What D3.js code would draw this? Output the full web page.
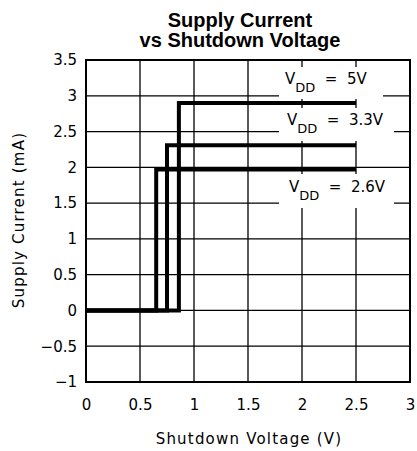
<!DOCTYPE html>
<html>
<head>
<meta charset="utf-8">
<script src="https://cdn.jsdelivr.net/npm/d3@7"></script>
<style>
  html, body { margin: 0; padding: 0; background: #fff; }
  svg { display: block; }
  .tick text { font-family: "DejaVu Sans", sans-serif; }
</style>
</head>
<body>
<svg id="chart" width="417" height="451"></svg>
<script>
// Supply current step for each supply voltage
const supplyLabels = ["5V", "3.3V", "2.6V"];
const thresholdVolts = [0.86, 0.75, 0.65];     // shutdown voltage where the part turns on (V)
const onCurrents = [2.9, 2.31, 1.97];          // supply current once on (mA)
const offCurrent = 0;                          // supply current in shutdown (mA)
const sweepStart = 0;
const sweepEnd = 2.5;

const xTicks = [0, 0.5, 1, 1.5, 2, 2.5, 3];
const yTicks = [-1, -0.5, 0, 0.5, 1, 1.5, 2, 2.5, 3, 3.5];

const margin = { top: 60, right: 7, bottom: 69, left: 86 };
const width = 417, height = 451;
const innerW = width - margin.left - margin.right;
const innerH = height - margin.top - margin.bottom;

const svg = d3.select("#chart");

const x = d3.scaleLinear().domain([0, 3]).range([margin.left, margin.left + innerW]);
const y = d3.scaleLinear().domain([-1, 3.5]).range([margin.top + innerH, margin.top]);

const fmt = v => (v < 0 ? "\u2212" + Math.abs(v) : String(v));

// Title
const titleStyle = sel => sel
  .attr("x", 240).attr("text-anchor", "middle")
  .attr("font-family", "Liberation Sans, Arial, sans-serif")
  .attr("font-weight", "bold").attr("font-size", 20);
svg.append("text").call(titleStyle).attr("y", 26.5).text("Supply Current");
svg.append("text").call(titleStyle).attr("y", 46.5).text("vs Shutdown Voltage");

// Grid
const grid = svg.append("g").attr("stroke", "#000").attr("stroke-width", 1.3);
grid.selectAll("line.v").data(xTicks.slice(1, -1)).join("line")
  .attr("x1", d => x(d)).attr("x2", d => x(d))
  .attr("y1", y(3.5)).attr("y2", y(-1));
grid.selectAll("line.h").data(yTicks.slice(1, -1)).join("line")
  .attr("x1", x(0)).attr("x2", x(3))
  .attr("y1", d => y(d)).attr("y2", d => y(d));

// Axes (labels only, frame drawn separately)
const xAxis = svg.append("g")
  .attr("transform", `translate(0,${y(-1)})`)
  .call(d3.axisBottom(x).tickValues(xTicks).tickSize(0).tickPadding(17).tickFormat(fmt));
xAxis.select(".domain").remove();
xAxis.selectAll("text").attr("font-size", 15).attr("fill", "#000");

const yAxis = svg.append("g")
  .attr("transform", `translate(${x(0)},0)`)
  .call(d3.axisLeft(y).tickValues(yTicks).tickSize(0).tickPadding(9).tickFormat(fmt));
yAxis.select(".domain").remove();
yAxis.selectAll("text").attr("font-size", 15).attr("fill", "#000");

// Plot frame
svg.append("rect")
  .attr("x", x(0)).attr("y", y(3.5))
  .attr("width", x(3) - x(0)).attr("height", y(-1) - y(3.5))
  .attr("fill", "none").attr("stroke", "#000").attr("stroke-width", 2);

// Axis titles
svg.append("text")
  .attr("x", 249).attr("y", 444).attr("text-anchor", "middle")
  .attr("font-family", "DejaVu Sans, sans-serif").attr("font-size", 15)
  .attr("letter-spacing", 1.2)
  .text("Shutdown Voltage (V)");

svg.append("text")
  .attr("transform", "translate(24,220) rotate(-90)")
  .attr("text-anchor", "middle")
  .attr("font-family", "DejaVu Sans, sans-serif").attr("font-size", 15)
  .attr("letter-spacing", 1.2)
  .text("Supply Current (mA)");

// Curve labels with white boxes behind them
const labelBoxes = [
  { x0: 279, x1: 383, y0: 67, y1: 99, tx: 285, ty: 84 },
  { x0: 279, x1: 394, y0: 108, y1: 141, tx: 287, ty: 125 },
  { x0: 279, x1: 394, y0: 174, y1: 208, tx: 289, ty: 192 }
];
const labels = svg.append("g");
supplyLabels.forEach((s, i) => {
  const b = labelBoxes[i];
  labels.append("rect")
    .attr("x", b.x0).attr("y", b.y0)
    .attr("width", b.x1 - b.x0).attr("height", b.y1 - b.y0)
    .attr("fill", "#fff");
  const t = labels.append("text")
    .attr("x", b.tx).attr("y", b.ty)
    .attr("font-family", "DejaVu Sans, sans-serif").attr("font-size", 15);
  t.append("tspan").text("V");
  t.append("tspan").attr("dy", 8).attr("font-size", 13).text("DD");
  t.append("tspan").attr("dy", -8).attr("xml:space", "preserve").text("  =  " + s);
});

// Step curves
const line = d3.line().x(d => x(d[0])).y(d => y(d[1])).curve(d3.curveStepAfter);
const curves = thresholdVolts.map((t, i) => [
  [sweepStart, offCurrent],
  [t, onCurrents[i]],
  [sweepEnd, onCurrents[i]]
]);
svg.append("g").selectAll("path").data(curves).join("path")
  .attr("d", line)
  .attr("fill", "none").attr("stroke", "#000").attr("stroke-width", 4)
  .attr("stroke-linejoin", "miter").attr("stroke-linecap", "butt");
</script>
</body>
</html>
